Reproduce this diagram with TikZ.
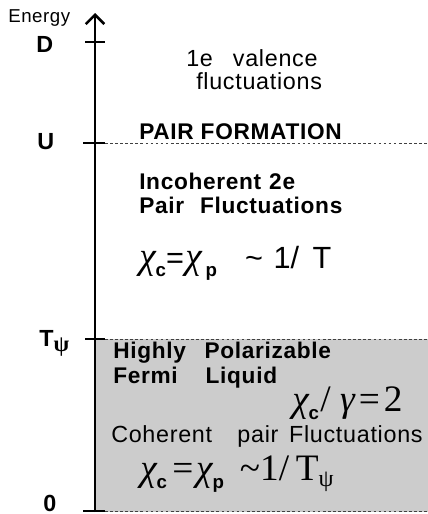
\documentclass[tikz,border=0pt]{standalone}
\usepackage{fontspec}
\setmainfont{Liberation Sans}
\newfontfamily\lsans[LetterSpace=3]{Liberation Sans}
\newfontfamily\tms{Liberation Serif}
\usetikzlibrary{arrows.meta}
\newcommand\sbc[1]{\raisebox{-6pt}{\fontsize{14}{14}\selectfont\lsans\bfseries #1}}
\newcommand\chiI{{\tms\itshape\fontsize{28}{28}\selectfont χ}}
\tikzset{
  lbl/.style={anchor=base west, inner sep=0pt, font=\lsans\fontsize{17.5}{18}\selectfont},
  blbl/.style={anchor=base west, inner sep=0pt, font=\lsans\bfseries\fontsize{17}{18}\selectfont},
  axlbl/.style={anchor=base west, inner sep=0pt, font=\bfseries\fontsize{17.5}{18}\selectfont},
  fmls/.style={anchor=base west, inner sep=0pt, font=\fontsize{23}{24}\selectfont},
  fmlt/.style={anchor=base west, inner sep=0pt, font=\tms\fontsize{28}{28}\selectfont},
  axis/.style={line width=1.9pt},
  tick/.style={line width=1.9pt},
  level/.style={line width=0.7pt, black!75, dash pattern=on 2pt off 1.8pt},
}
\begin{document}
\begin{tikzpicture}[x=0.75pt,y=-0.75pt]
\useasboundingbox (0,0) rectangle (428,514);
% shaded low-energy region
\fill[black!20] (95,339) rectangle (428,512);
\draw[level] (105,339) -- (428,339);
\draw[level] (105,511) -- (428,511);
\draw[level] (105,143) -- (428,143);
% axis
\coordinate (bot) at (95,512);
\coordinate (top) at (95,13);
\draw[axis, -{Straight Barb[length=7pt,width=14pt,line width=1.9pt]}] (bot) -- (top);
% ticks
\coordinate (dL) at (85,42);  \coordinate (dR) at (105,42);
\coordinate (uL) at (83,143); \coordinate (uR) at (105,143);
\coordinate (tL) at (85,339); \coordinate (tR) at (105,339);
\coordinate (zL) at (83,511); \coordinate (zR) at (105,511);
\draw[tick] (dL) -- (dR);
\draw[tick] (uL) -- (uR);
\draw[tick] (tL) -- (tR);
\draw[tick] (zL) -- (zR);
% axis labels
\node[anchor=base west, inner sep=0pt, font=\lsans\fontsize{14}{14}\selectfont] (energy) at (8,22) {Energy};
\node[axlbl] (D) at (36,52) {D};
\node[axlbl] (U) at (37,149) {U};
\node[axlbl] (T) at (39,346) {T\raisebox{-4pt}{\tms\fontsize{17}{17}\selectfont ψ}};
\node[axlbl] (Z) at (43,511) {0};
% region texts
\node[lbl] (v1) at (186,66) {1e\hspace{15pt}valence};
\node[lbl] (v2) at (196,89) {fluctuations};
\node[blbl] (pf) at (139,139) {PAIR FORMATION};
\node[blbl] (ic1) at (139,189) {Incoherent\hspace{6pt}2e};
\node[blbl] (ic2) at (139,213) {Pair\hspace{12pt}Fluctuations};
\node[fmls] (f1) at (139,268) {\chiI\sbc{c}=\hspace{1pt}\chiI\hspace{3pt}\sbc{p}\hspace{21pt}\textasciitilde\hspace{8pt}1/\hspace{10pt}T};
\node[blbl] (h1) at (113,358) {Highly\hspace{14pt}Polarizable};
\node[blbl] (h2) at (113,383) {Fermi\hspace{21pt}Liquid};
\node[fmlt] (f2) at (292,411) {{\itshape χ}\sbc{c}\hspace{1pt}/\hspace{7pt}{\itshape γ}\hspace{3pt}=\hspace{3pt}2};
\node[lbl] (co) at (111,442) {Coherent\hspace{19pt}pair\hspace{8pt}Fluctuations};
\node[fmlt] (f3) at (140,480) {{\itshape χ}\sbc{c}\hspace{4pt}=\hspace{2pt}{\itshape χ}\sbc{p}\hspace{12pt}\textasciitilde 1/\hspace{5pt}T\raisebox{-5pt}{\fontsize{18}{18}\selectfont ψ}};
\end{tikzpicture}
\end{document}
